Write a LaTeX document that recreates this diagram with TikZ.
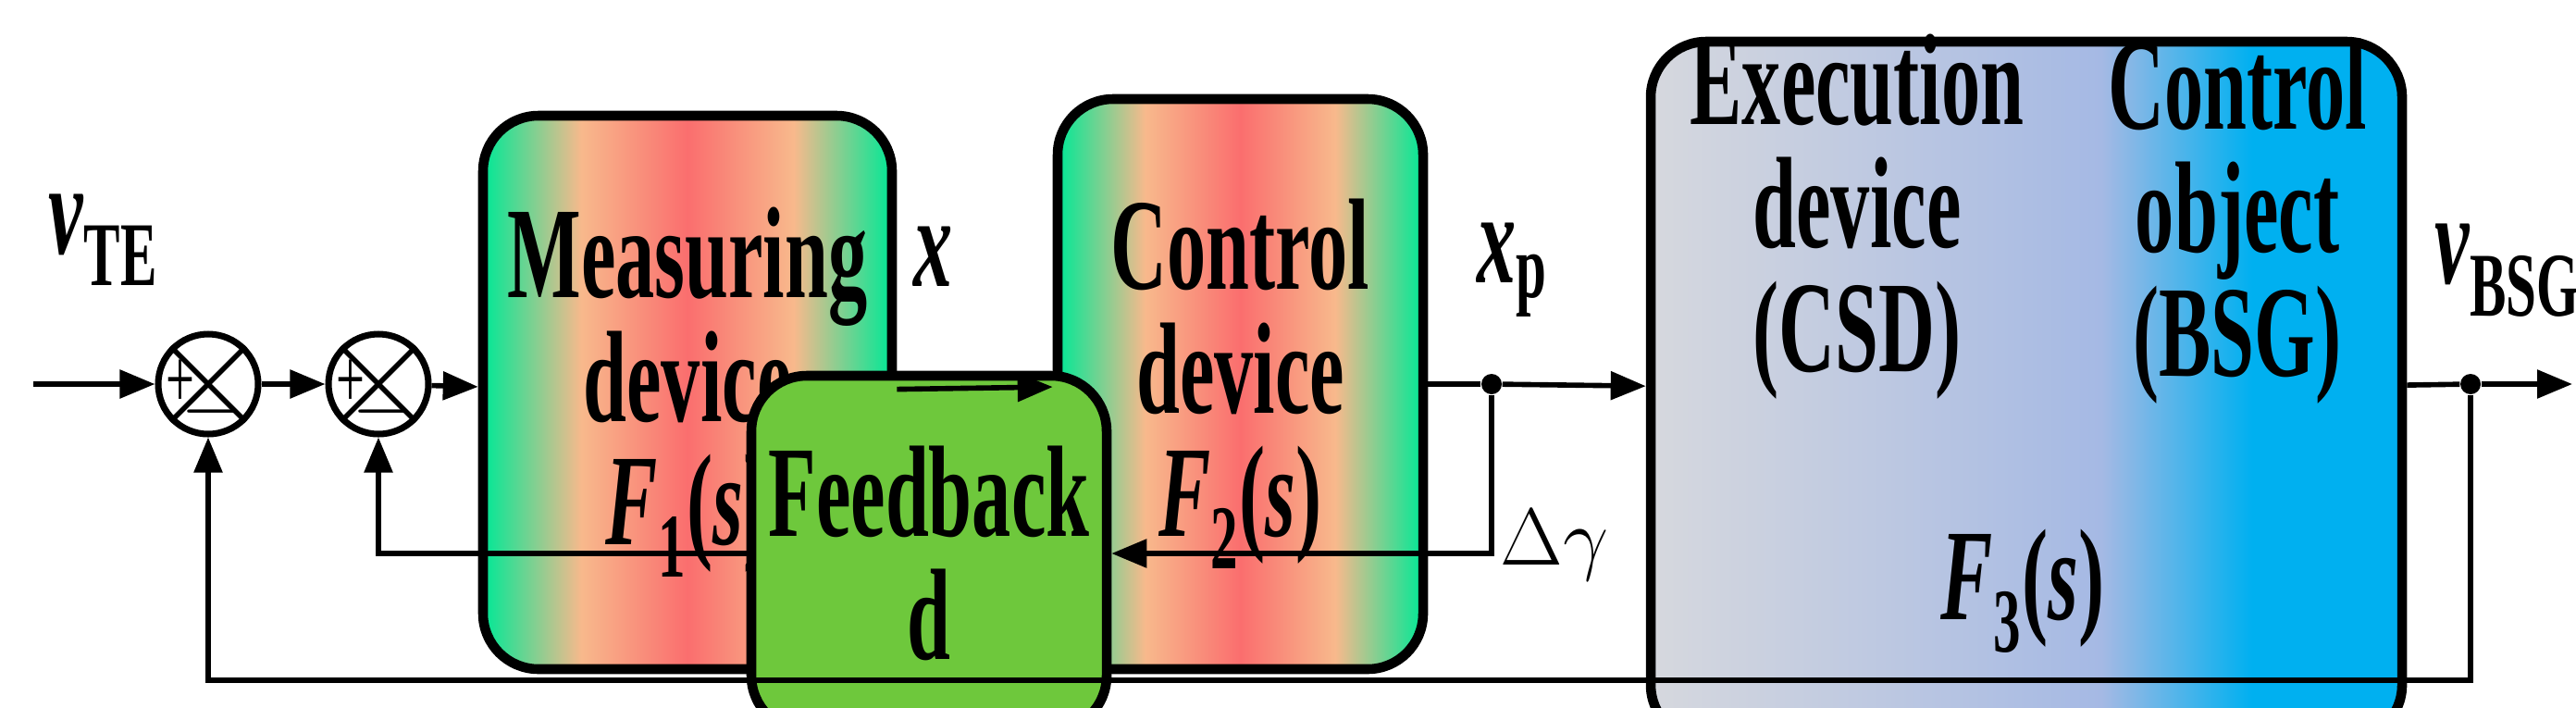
\documentclass[tikz,border=0pt]{standalone}
\usepackage{fontspec}
\setmainfont{Liberation Serif}[FakeStretch=0.6]
\usetikzlibrary{arrows.meta,calc,positioning}
\definecolor{tealgreen}{RGB}{0,232,150}
\definecolor{peach}{RGB}{248,185,140}
\definecolor{salmonred}{RGB}{250,110,110}
\definecolor{paleblue}{RGB}{214,216,222}
\definecolor{lavblue}{RGB}{165,185,228}
\definecolor{skyblue}{RGB}{0,176,240}
\definecolor{leafgreen}{RGB}{110,200,60}
\pgfdeclarehorizontalshading{warmshade}{100bp}{
  color(0bp)=(tealgreen); color(25bp)=(tealgreen); color(37bp)=(peach);
  color(50bp)=(salmonred); color(63bp)=(peach); color(75bp)=(tealgreen); color(100bp)=(tealgreen)}
\pgfdeclarehorizontalshading{coolshade}{100bp}{
  color(0bp)=(paleblue); color(25bp)=(paleblue); color(55bp)=(lavblue);
  color(65bp)=(skyblue); color(100bp)=(skyblue)}
\newcommand{\transfer}[1]{\textit{F}\textsubscript{#1}(\textit{s})}
\tikzset{
  block/.style = {
    draw, line width=3pt, rounded corners=0.6cm,
    align=center, font={\fontsize{40}{38}\selectfont\bfseries}
  },
  warm block/.style = {
    block, shading=warmshade
  },
  sum/.style = {
    draw, circle, line width=2pt, minimum size=1.08cm, inner sep=0pt
  },
  connect/.style = {
    line width=1.6pt, -{Triangle[length=0.38cm,width=0.3cm]}
  },
  wire/.style = {
    line width=1.6pt
  },
  signal/.style = {
    font={\fontsize{40}{38}\selectfont\bfseries}
  },
  joint/.style = {
    fill, circle, minimum size=0.22cm, inner sep=0pt
  },
}
\begin{document}
\begin{tikzpicture}
  \useasboundingbox (0,0) rectangle (27.84,7.64);

  % blocks
  \node[warm block, minimum width=4.42cm, minimum height=5.98cm] (meas) at (7.43,3.40)
    {Measuring\\device\\\transfer{1}};
  \node[warm block, minimum width=3.95cm, minimum height=6.16cm] (ctrl) at (13.405,3.49)
    {Control\\device\\\transfer{2}};
  \node[block, shading=coolshade, minimum width=8.12cm, minimum height=7.55cm] (plant) at (21.90,3.415) {};
  \node[block, fill=leafgreen, minimum width=3.84cm, minimum height=3.84cm] (fback) at (10.04,1.66)
    {Feedback\\d};

  % texts inside the plant block
  \node[signal, align=center] (exec) at (20.07,5.30) {Execution\\device\\(CSD)};
  \node[signal, align=center] (cobj) at (24.18,5.25) {Control\\object\\(BSG)};
  \node[signal] (fthree) at (21.86,1.25) {\transfer{3}};

  % summing junctions
  \foreach \name/\xpos in {sumA/2.25, sumB/4.09} {
    \node[sum] (\name) at (\xpos,3.49) {};
    \draw[wire] (\name.north west) -- (\name.south east)
                (\name.north east) -- (\name.south west);
    \node[font=\fontsize{26}{26}\selectfont] at ($(\name)+(-0.3,0)$) {+};
    \node[font=\fontsize{26}{26}\selectfont] at ($(\name)+(0.05,-0.3)$) {$-$};
  }

  % branch points
  \node[joint] (jp) at (16.12,3.49) {};
  \node[joint] (jo) at (26.70,3.49) {};
  \coordinate (inp) at (0.36,3.49);
  \coordinate (outp) at (27.80,3.49);

  % signals
  \node[signal] (vte) at (1.12,5.05) {\textit{v}\textsubscript{TE}};
  \node[signal] (xlab) at (10.09,4.87) {\textit{x}};
  \node[signal] (xplab) at (16.35,4.72) {\textit{x}\textsubscript{p}};
  \node[signal] (dglab) at (16.80,1.75) {$\Delta\gamma$};
  \node[signal] (vbsg) at (27.10,4.72) {\textit{v}\textsubscript{BSG}};

  % connectors
  \draw[connect] (inp) -- (sumA);
  \draw[connect] (sumA) -- (sumB);
  \draw[connect] (sumB) -- (meas);
  \draw[connect] (meas) -- (ctrl);
  \draw[wire] (ctrl) -- (jp);
  \draw[connect] (jp) -- (plant);
  \draw[wire] (plant) -- (jo);
  \draw[connect] (jo) -- (outp);
  \draw[connect] (jp) |- (fback);
  \draw[connect] (fback) -| (sumB);
  \draw[connect] (jo) |- (2.25,0.29) -- (sumA);
\end{tikzpicture}
\end{document}
